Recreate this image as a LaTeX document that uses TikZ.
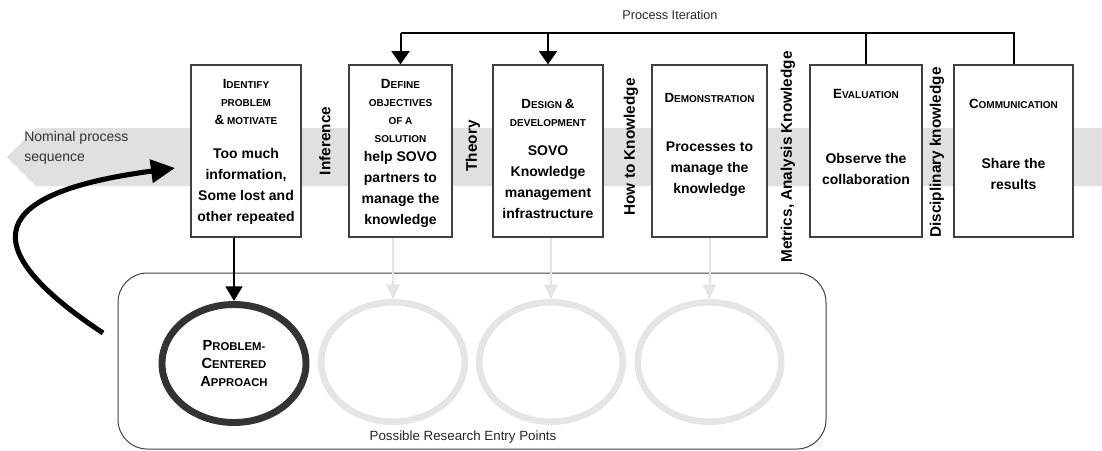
\documentclass[tikz,border=0pt]{standalone}
\usepackage{fontspec}
\setmainfont{Liberation Sans}
\usetikzlibrary{arrows.meta,shapes.geometric}

\definecolor{bandgray}{RGB}{224,224,224}
\definecolor{faintgray}{RGB}{229,229,229}
\definecolor{edgegray}{RGB}{64,64,64}
\definecolor{ringdark}{RGB}{51,51,51}

% fake small caps: big first letter, small rest
\newcommand{\sck}[2]{{\fontsize{10}{13.5}\selectfont #1}{\fontsize{7.5}{13.5}\selectfont #2}}
\newcommand{\scr}[2]{{\fontsize{11}{13.4}\selectfont #1}{\fontsize{8.5}{13.4}\selectfont #2}}

\tikzset{
  stepbox/.style={draw=edgegray, line width=0.9pt, fill=white, minimum height=129pt, inner sep=0pt},
  headtxt/.style={font=\bfseries\fontsize{10}{13.5}\selectfont, align=center, inner sep=0pt},
  bodytxt/.style={font=\bfseries\fontsize{10.5}{15.75}\selectfont, align=center, inner sep=0pt},
  sidelbl/.style={font=\bfseries\fontsize{11.5}{13}\selectfont, rotate=90, inner sep=0pt},
  ringon/.style={ellipse, draw=ringdark, line width=5.2pt, minimum width=108pt, minimum height=88.5pt,
    inner sep=0pt, align=center, font=\bfseries\fontsize{11}{13.4}\selectfont},
  ringoff/.style={ellipse, draw=faintgray, line width=4.9pt, minimum width=107.6pt, minimum height=89.6pt, inner sep=0pt},
  iterarrow/.style={line width=1.5pt, -{Triangle[width=13.5pt,length=10pt]}},
  faintarrow/.style={draw=faintgray, line width=1.5pt, -{Triangle[width=10pt,length=11pt]}},
}

\begin{document}
\begin{tikzpicture}[x=0.75pt, y=-0.75pt]
    \useasboundingbox (0,0) rectangle (1102,450);

    % Nominal sequence band
    \fill[bandgray] (7,157) -- (36,128) -- (1102,128) -- (1102,186) -- (36,186) -- cycle;
    \node[anchor=west, align=left, inner sep=0pt, text=black!80, font=\fontsize{10.5}{15}\selectfont] (nominal) at (24,148) {Nominal process\\sequence};

    % Entry points frame
    \node[draw=edgegray, line width=0.75pt, rounded corners=22pt, minimum width=531pt, minimum height=132pt] (entry) at (472,361) {};
    \node[inner sep=0pt, font=\fontsize{10}{12}\selectfont, text=black!85] (entrylbl) at (463,437) {Possible Research Entry Points};

    % Process steps
    \node[stepbox, minimum width=82.5pt] (b1) at (246,151) {};
    \node[stepbox, minimum width=77.25pt] (b2) at (400.5,151) {};
    \node[stepbox, minimum width=82.5pt] (b3) at (548,151) {};
    \node[stepbox, minimum width=86.25pt] (b4) at (709.5,151) {};
    \node[stepbox, minimum width=84pt] (b5) at (866,151) {};
    \node[stepbox, minimum width=89.25pt] (b6) at (1013.5,151) {};

    \node[headtxt] (b1h) at (246,102) {\sck{I}{DENTIFY}\\\sck{}{PROBLEM}\\\sck{\&}{ MOTIVATE}};
    \node[bodytxt] (b1t) at (246,186) {Too much\\information,\\Some lost and\\other repeated};

    \node[headtxt] (b2h) at (400.5,110.5) {\sck{D}{EFINE}\\\sck{}{OBJECTIVES}\\\sck{}{OF A}\\\sck{}{SOLUTION}};
    \node[bodytxt] (b2t) at (400.5,189) {help SOVO\\partners to\\manage the\\knowledge};

    \node[headtxt] (b3h) at (548,113) {\sck{D}{ESIGN }\sck{\&}{}\\\sck{}{DEVELOPMENT}};
    \node[bodytxt] (b3t) at (548,182) {SOVO\\Knowledge\\management\\infrastructure};

    \node[headtxt] (b4h) at (709.5,97.5) {\sck{D}{EMONSTRATION}};
    \node[bodytxt] (b4t) at (709.5,169.5) {Processes to\\manage the\\knowledge};

    \node[headtxt] (b5h) at (866,93.5) {\sck{E}{VALUATION}};
    \node[bodytxt] (b5t) at (866,169) {Observe the\\collaboration};

    \node[headtxt] (b6h) at (1013.5,103.5) {\sck{C}{OMMUNICATION}};
    \node[bodytxt] (b6t) at (1013.5,173.5) {Share the\\results};

    % Knowledge labels between steps
    \node[sidelbl] (infer) at (325,141) {Inference};
    \node[sidelbl] (theory) at (473,146) {Theory};
    \node[sidelbl] (howto) at (631,147) {How to Knowledge};
    \node[sidelbl] (metrics) at (788,157) {Metrics, Analysis Knowledge};
    \node[sidelbl] (discip) at (937,152.5) {Disciplinary knowledge};

    % Process iteration
    \coordinate (itL) at (400.5,33);
    \node[inner sep=0pt, font=\fontsize{9.5}{11}\selectfont, text=black!85] (iterlbl) at (670,15) {Process Iteration};
    \draw[line width=1.5pt] (b6.north) |- (itL);
    \draw[line width=1.5pt] (b5.north) -- (b5.north |- itL);
    \draw[iterarrow] (itL) -- (b2.north);
    \draw[iterarrow] (b3.north |- itL) -- (b3.north);

    % Entry points
    \node[ringon] (e1) at (234,363.5) {\scr{P}{ROBLEM-}\\\scr{C}{ENTERED}\\\scr{A}{PPROACH}};
    \node[ringoff] (e2) at (393,362) {};
    \node[ringoff] (e3) at (551,362) {};
    \node[ringoff] (e4) at (709.5,362) {};

    \draw[line width=1.9pt, -{Triangle[width=12.5pt,length=11pt]}] (e1.north |- b1.south) -- (e1.north);
    \draw[faintarrow] (e2.north |- b2.south) -- (e2.north);
    \draw[faintarrow] (e3.north |- b3.south) -- (e3.north);
    \draw[faintarrow] (e4.north |- b4.south) -- (e4.north);

    % Loop back into the sequence
    \coordinate (loopstart) at (103,333);
    \coordinate (loopend) at (175,168);
    \draw[line width=3.8pt, -{Triangle[width=17pt,length=18pt]}] (loopstart) .. controls (-45,235) and (10,190) .. (loopend);
\end{tikzpicture}
\end{document}
